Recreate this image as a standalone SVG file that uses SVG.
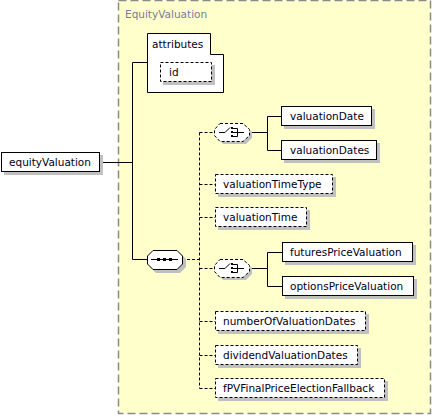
<svg xmlns="http://www.w3.org/2000/svg" width="432" height="416" viewBox="0 0 432 416">
<style>
.frame{fill:#ffffcc;stroke:#8a8a8a;stroke-width:1.5;stroke-dasharray:8,4}
.title{font-family:"DejaVu Sans",sans-serif;font-size:10.5px;fill:#7a7a9a}
.box{fill:#ffffff;stroke:#000000;stroke-width:1}
.opt{fill:#ffffff;stroke:#000000;stroke-width:1;stroke-dasharray:3,2}
.sh{fill:#c0c0c0;stroke:none}
.lbl{font-family:"DejaVu Sans",sans-serif;font-size:10.5px;fill:#000020}
.ln{fill:none;stroke:#000000;stroke-width:1}
.dl{fill:none;stroke:#000000;stroke-width:1;stroke-dasharray:3,2}
.ic{fill:none;stroke:#000000;stroke-width:1}
.dot{fill:#000000}
</style>
<rect class="frame" x="118.5" y="0.5" width="312" height="413"/>
<text class="title" x="125" y="18">EquityValuation</text>

<g id="connectors">
<polyline class="ln" points="100,162.5 132.5,162.5"/>
<polyline class="ln" points="147,62.5 132.5,62.5 132.5,259.5 147,259.5"/>
<polyline class="dl" points="182,259.5 199.5,259.5"/>
<polyline class="dl" points="199.5,132.5 199.5,388.5"/>
<polyline class="dl" points="199.5,132.5 214,132.5"/>
<polyline class="dl" points="199.5,184.5 215,184.5"/>
<polyline class="dl" points="199.5,217.5 215,217.5"/>
<polyline class="dl" points="199.5,268.5 214,268.5"/>
<polyline class="dl" points="199.5,321.5 215,321.5"/>
<polyline class="dl" points="199.5,355.5 215,355.5"/>
<polyline class="dl" points="199.5,388.5 215,388.5"/>
<polyline class="ln" points="249,132.5 267.5,132.5"/>
<polyline class="ln" points="281,116.5 267.5,116.5 267.5,150.5 281,150.5"/>
<polyline class="ln" points="249,268.5 267.5,268.5"/>
<polyline class="ln" points="282,252.5 267.5,252.5 267.5,286.5 282,286.5"/>
</g>

<g id="equityValuation">
<rect class="sh" x="4" y="155" width="99" height="20"/>
<rect class="box" x="1.5" y="152.5" width="98" height="19"/>
<text class="lbl" x="9" y="166">equityValuation</text>
</g>

<g id="attributes">
<path class="box" d="M147.5,33.5 H210.5 V54.5 H223.5 V92.5 H147.5 Z"/>
<text class="lbl" x="152" y="48">attributes</text>
</g>

<g id="id">
<rect class="sh" x="163" y="65" width="52" height="20"/>
<rect class="opt" x="160.5" y="62.5" width="51" height="19"/>
<text class="lbl" x="169" y="76">id</text>
</g>

<g id="sequence">
<path class="sh" d="M156,253 H180 L186,259 V267 L180,273 H156 L150,267 V259 Z"/>
<path class="box" d="M153,250.5 H177 L182.5,256 V264 L177,269.5 H153 L147.5,264 V256 Z"/>
<line class="ic" x1="151" y1="259.5" x2="178" y2="259.5"/>
<rect class="dot" x="157" y="258" width="3" height="3"/>
<rect class="dot" x="163" y="258" width="3" height="3"/>
<rect class="dot" x="169" y="258" width="3" height="3"/>
</g>

<g id="choice1">
<path class="sh" d="M223,126 H246 L252,132 V138 L246,144 H223 L217,138 V132 Z"/>
<path class="opt" d="M220,123.5 H243 L249.5,129.5 V135.5 L243,141.5 H220 L214.5,135.5 V129.5 Z"/>
<polyline class="ic" points="219,132.5 225,132.5 230,127.5"/>
<rect class="dot" x="231" y="127" width="2" height="2"/>
<rect class="dot" x="231" y="131" width="2" height="2"/>
<rect class="dot" x="231" y="135" width="2" height="2"/>
<polyline class="ic" points="233,128.5 237.5,128.5 237.5,136.5 233,136.5"/>
<polyline class="ic" points="233,132.5 244,132.5"/>
</g>

<g id="valuationDate">
<rect class="sh" x="284" y="109" width="91" height="20"/>
<rect class="box" x="281.5" y="106.5" width="90" height="19"/>
<text class="lbl" x="290" y="120">valuationDate</text>
</g>

<g id="valuationDates">
<rect class="sh" x="284" y="143" width="96" height="20"/>
<rect class="box" x="281.5" y="140.5" width="95" height="19"/>
<text class="lbl" x="290" y="154">valuationDates</text>
</g>

<g id="valuationTimeType">
<rect class="sh" x="218" y="177" width="118" height="20"/>
<rect class="opt" x="215.5" y="174.5" width="117" height="19"/>
<text class="lbl" x="223" y="188">valuationTimeType</text>
</g>

<g id="valuationTime">
<rect class="sh" x="218" y="210" width="92" height="20"/>
<rect class="opt" x="215.5" y="207.5" width="91" height="19"/>
<text class="lbl" x="223" y="221">valuationTime</text>
</g>

<g id="choice2">
<path class="sh" d="M223,262 H246 L252,268 V274 L246,280 H223 L217,274 V268 Z"/>
<path class="opt" d="M220,259.5 H243 L249.5,265.5 V271.5 L243,277.5 H220 L214.5,271.5 V265.5 Z"/>
<polyline class="ic" points="219,268.5 225,268.5 230,263.5"/>
<rect class="dot" x="231" y="263" width="2" height="2"/>
<rect class="dot" x="231" y="267" width="2" height="2"/>
<rect class="dot" x="231" y="271" width="2" height="2"/>
<polyline class="ic" points="233,264.5 237.5,264.5 237.5,272.5 233,272.5"/>
<polyline class="ic" points="233,268.5 244,268.5"/>
</g>

<g id="futuresPriceValuation">
<rect class="sh" x="285" y="245" width="131" height="20"/>
<rect class="box" x="282.5" y="242.5" width="130" height="19"/>
<text class="lbl" x="290" y="256">futuresPriceValuation</text>
</g>

<g id="optionsPriceValuation">
<rect class="sh" x="285" y="279" width="132" height="20"/>
<rect class="box" x="282.5" y="276.5" width="131" height="19"/>
<text class="lbl" x="290" y="290">optionsPriceValuation</text>
</g>

<g id="numberOfValuationDates">
<rect class="sh" x="218" y="314" width="151" height="20"/>
<rect class="opt" x="215.5" y="311.5" width="150" height="19"/>
<text class="lbl" x="223" y="325">numberOfValuationDates</text>
</g>

<g id="dividendValuationDates">
<rect class="sh" x="218" y="348" width="143" height="20"/>
<rect class="opt" x="215.5" y="345.5" width="142" height="19"/>
<text class="lbl" x="223" y="359">dividendValuationDates</text>
</g>

<g id="fPVFinalPriceElectionFallback">
<rect class="sh" x="218" y="381" width="170" height="20"/>
<rect class="opt" x="215.5" y="378.5" width="169" height="19"/>
<text class="lbl" x="223" y="392">fPVFinalPriceElectionFallback</text>
</g>
</svg>
